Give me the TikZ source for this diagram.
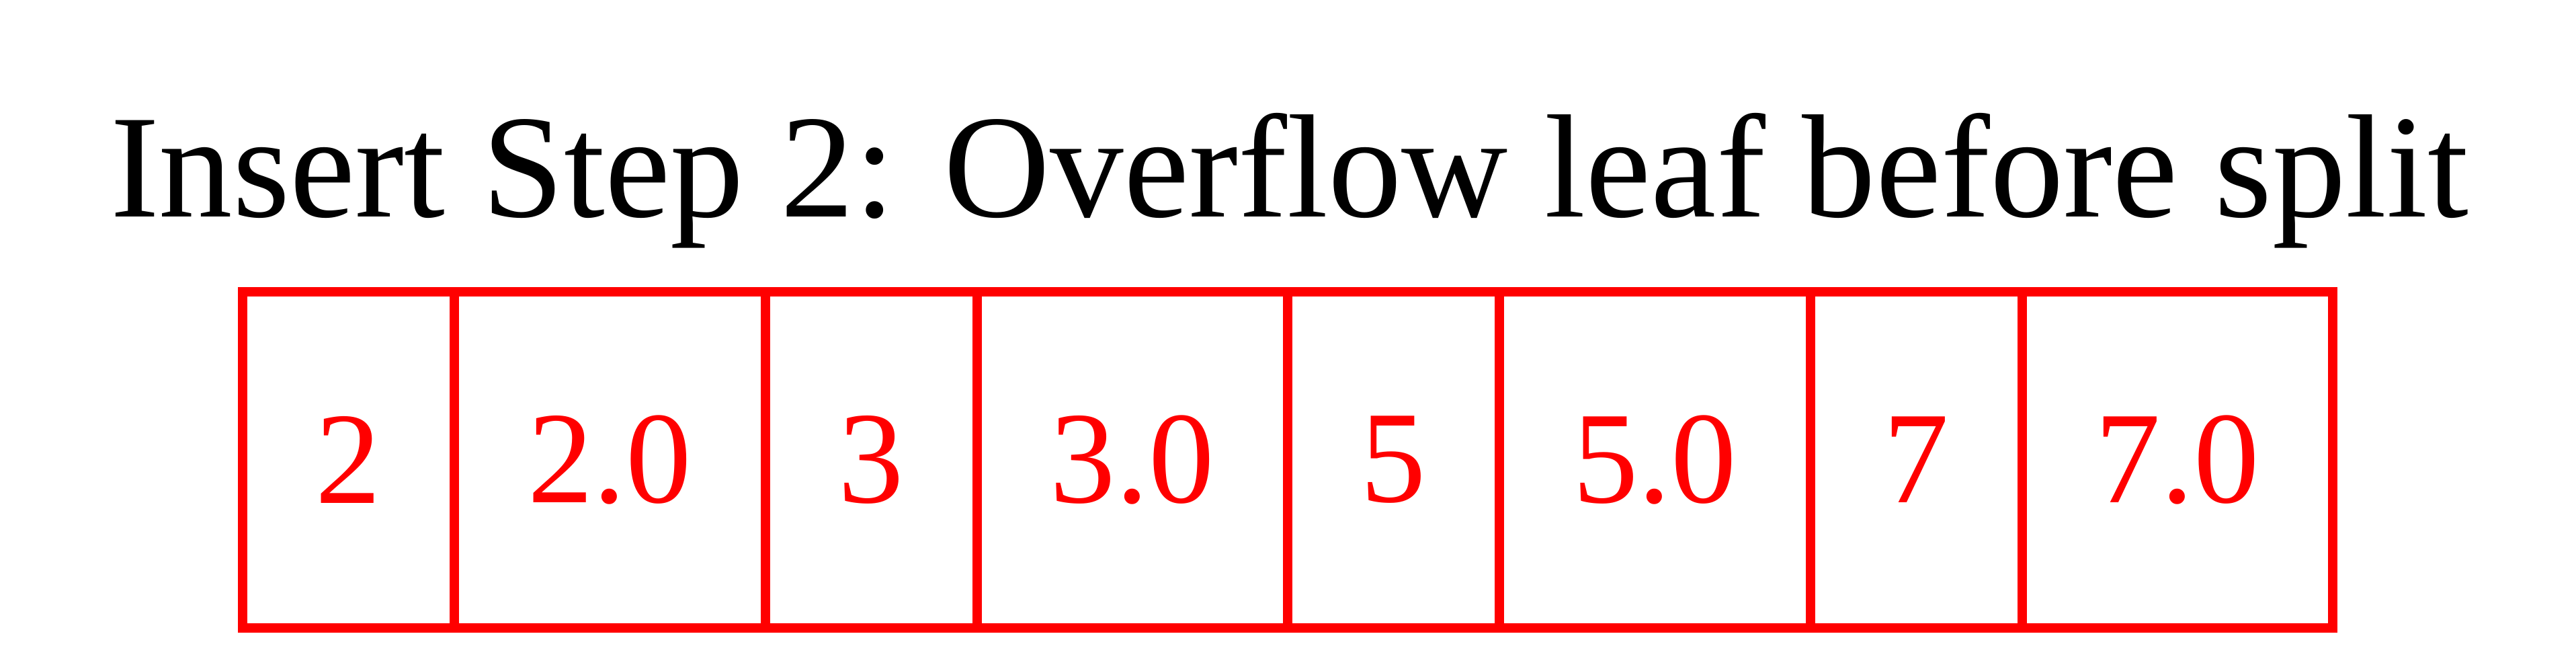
\documentclass[tikz,border=0pt]{standalone}
\usepackage{fontspec}
\setmainfont{Liberation Serif}
\usepackage{xcolor}
\usepackage{tikz}
\usetikzlibrary{positioning}

\begin{document}
\begin{tikzpicture}[
    every node/.style={font=\fontsize{19.5pt}{23pt}\selectfont},
    cell/.style={draw=red, text=red, rectangle, line width=1.4pt, outer sep=0pt, inner sep=0pt, minimum height=50pt},
    keycell/.style={cell, minimum width=31.5pt},
    valcell/.style={cell, minimum width=46.25pt},
    title/.style={font=\fontsize{21.9pt}{27pt}\selectfont, anchor=base, inner sep=0pt}
]
\useasboundingbox (0,0) rectangle (383.3pt,99.7pt);

% --- Title ---
\node[title] (head) at (191.85pt,67.5pt) {Insert Step 2: Overflow leaf before split};

% --- Leaf node: key / value pairs ---
\node[keycell, anchor=west] (k2) at (36.1pt,31.3pt) {2};
\node[valcell, right=0pt of k2] (v2) {2.0};
\node[keycell, right=0pt of v2] (k3) {3};
\node[valcell, right=0pt of k3] (v3) {3.0};
\node[keycell, right=0pt of v3] (k5) {5};
\node[valcell, right=0pt of k5] (v5) {5.0};
\node[keycell, right=0pt of v5] (k7) {7};
\node[valcell, right=0pt of k7] (v7) {7.0};
\end{tikzpicture}
\end{document}
